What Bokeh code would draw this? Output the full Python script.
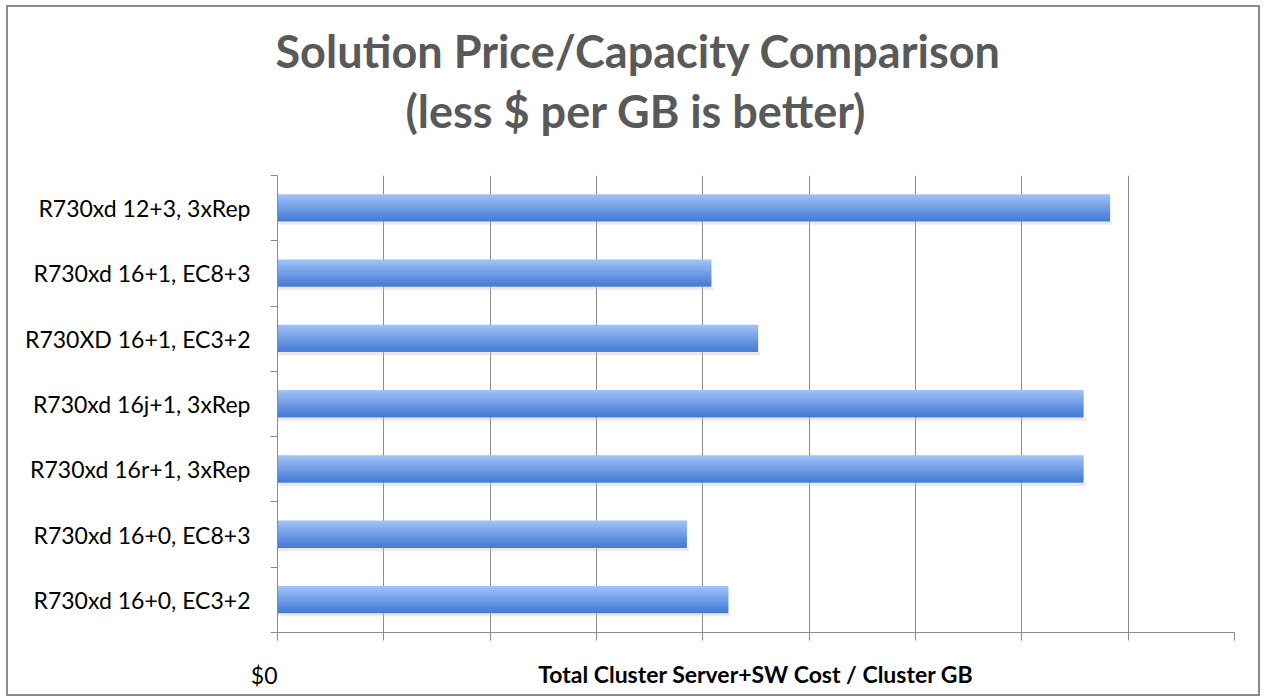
from bokeh.plotting import figure
from bokeh.models import Range1d, FixedTicker, Title
from bokeh.embed import file_html
from bokeh.resources import INLINE

# ---- data ----
categories = [
    "R730xd 12+3, 3xRep",
    "R730xd 16+1, EC8+3",
    "R730XD 16+1, EC3+2",
    "R730xd 16j+1, 3xRep",
    "R730xd 16r+1, 3xRep",
    "R730xd 16+0, EC8+3",
    "R730xd 16+0, EC3+2",
]
cost_per_gb = [7.83, 4.08, 4.52, 7.58, 7.58, 3.85, 4.24]  # in gridline units
x_ticks = list(range(0, 10))
x_tick_labels = {0: "$0\u2007\u2007"}
title_lines = ["Solution Price/Capacity Comparison", "(less $ per GB is better)"]
x_title = "Total Cluster Server+SW Cost / Cluster GB"

# ---- layout constants (pixels) ----
W, H = 1254, 691
FL, FR, FT, FB = 269, 28, 168, 66
n = len(categories)
XMAX = 9
GRAY = "#8c8c8c"
TITLE_GRAY = "#595959"

p = figure(width=W, height=H, output_backend="svg", toolbar_location=None,
           x_range=Range1d(0, XMAX), y_range=Range1d(0, n),
           min_border_left=FL, min_border_right=FR, min_border_top=FT, min_border_bottom=FB,
           outline_line_color=None, background_fill_color="white", border_fill_color="white",
           styles={"border": "2px solid #8a8a8a", "margin": "5px 0px 0px 6px"})

# bars with a vertical gradient
ys = [n - 0.5 - i for i in range(n)]
bar_h = 0.41
strips = 14
top_c = (158, 192, 246)
bot_c = (70, 124, 212)
p.hbar(y=[y - bar_h / 2 - 0.025 for y in ys], left=0, right=[v + 0.02 for v in cost_per_gb],
       height=0.05, color="#c9c2b6", alpha=0.35, line_color=None)
for k in range(strips):
    t = k / (strips - 1)
    c = tuple(int(round(top_c[j] + (bot_c[j] - top_c[j]) * t)) for j in range(3))
    col = "#%02x%02x%02x" % c
    off = bar_h / 2 - (k + 0.5) * bar_h / strips
    p.hbar(y=[y + off for y in ys], left=0, right=cost_per_gb,
           height=bar_h / strips * 1.6 if k < strips - 1 else bar_h / strips,
           fill_color=col, line_color=None)

# x axis
xa = p.xaxis[0]
xa.ticker = FixedTicker(ticks=x_ticks)
xa.major_label_overrides = {t: x_tick_labels.get(t, "") for t in x_ticks}
xa.axis_line_color = GRAY
xa.major_tick_line_color = GRAY
xa.major_tick_out = 8
xa.major_tick_in = 0
xa.minor_tick_line_color = None
xa.major_label_text_font = "Lato"
xa.major_label_text_font_size = "23px"
xa.major_label_text_color = "black"
xa.major_label_standoff = 20
xa.axis_label = x_title
xa.axis_label_text_font = "Lato"
xa.axis_label_text_font_style = "bold"
xa.axis_label_text_font_size = "23px"
xa.axis_label_text_color = "black"
xa.axis_label_standoff = -32

# y axis
ya = p.yaxis[0]
ya.ticker = FixedTicker(ticks=ys, minor_ticks=list(range(0, n + 1)))
ya.major_label_overrides = {y: c for y, c in zip(ys, categories)}
ya.axis_line_color = GRAY
ya.major_tick_line_color = None
ya.major_tick_out = 0
ya.major_tick_in = 0
ya.minor_tick_line_color = GRAY
ya.minor_tick_out = 7
ya.minor_tick_in = 0
ya.major_label_text_font = "Lato"
ya.major_label_text_font_size = "23px"
ya.major_label_text_color = "black"
ya.major_label_standoff = 20

p.xgrid.grid_line_color = GRAY
p.ygrid.grid_line_color = None

# titles: first added sits closest to the frame
p.add_layout(Title(text=" ", text_font="Lato", text_font_size="30px", standoff=0), "above")
p.add_layout(Title(text=title_lines[1], align="left", offset=128, standoff=0,
                   text_font="Lato", text_font_style="bold", text_font_size="45px",
                   text_color=TITLE_GRAY), "above")
p.add_layout(Title(text=title_lines[0], align="left", offset=-2, standoff=8,
                   text_font="Lato", text_font_style="bold", text_font_size="45px",
                   text_color=TITLE_GRAY), "above")

open("out.html", "w").write(file_html(p, INLINE))
